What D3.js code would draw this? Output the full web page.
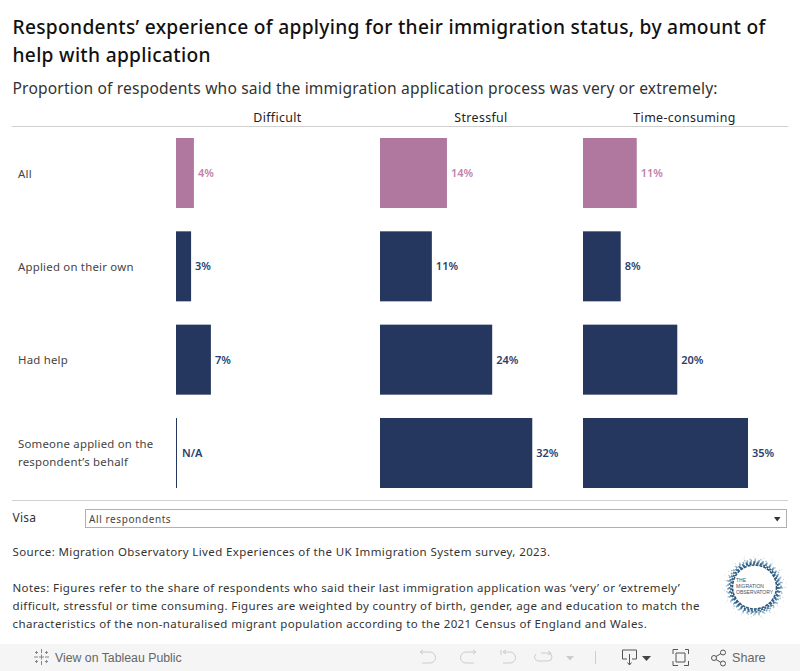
<!DOCTYPE html>
<html><head><meta charset="utf-8">
<script src="https://cdn.jsdelivr.net/npm/d3@7"></script>
<style>
html,body{margin:0;padding:0;background:#fff;overflow:hidden}
svg{display:block}
text{font-family:"Noto Sans",sans-serif}
</style></head><body>
<svg id="c" width="800" height="671"></svg>
<script>
const measures=["Difficult","Stressful","Time-consuming"];
const groups=["All","Applied on their own","Had help","Someone applied on the respondent’s behalf"];
const difficult=[3.8,3.2,7.4,null];
const stressful=[14.2,11,23.8,32.3];
const timeConsuming=[11.4,8,20,35];
const titleLines=["Respondents’ experience of applying for their immigration status, by amount of","help with application"];
const subtitle="Proportion of respodents who said the immigration application process was very or extremely:";
const sourceLines=["Source: Migration Observatory Lived Experiences of the UK Immigration System survey, 2023."];
const noteLines=["Notes: Figures refer to the share of respondents who said their last immigration application was ‘very’ or ‘extremely’","difficult, stressful or time consuming. Figures are weighted by country of birth, gender, age and education to match the","characteristics of the non-naturalised migrant population according to the 2021 Census of England and Wales."];
const seriesByMeasure=[difficult,stressful,timeConsuming];

const svg=d3.select("#c");
const pink="#b0779f",pinkText="#bf80ac",navy="#25375f",navyText="#2c3e6b";
const rule="#d0d0d0";

svg.selectAll("text.title").data(titleLines).join("text").attr("class","title")
 .attr("x",12.5).attr("y",(d,i)=>34+i*27.5).attr("font-size",19.2).attr("font-weight",500).attr("fill","#111").attr("letter-spacing",0.3).text(d=>d);
svg.append("text").attr("x",12.5).attr("y",94).attr("font-size",15.6).attr("fill","#333").attr("letter-spacing",0.16).text(subtitle);

const panelX=d3.scaleOrdinal().domain(measures).range([176,380,583]);
const x=d3.scaleLinear().domain([0,35]).range([0,165]);
const y=d3.scaleBand().domain(groups).range([138,488]).paddingInner(23.3/93.3).paddingOuter(0);
const headerX=d3.scaleOrdinal().domain(measures).range([277.5,481,684.5]);

svg.selectAll("text.head").data(measures).join("text").attr("class","head")
 .attr("x",d=>headerX(d)).attr("y",122).attr("text-anchor","middle").attr("font-size",12.4).attr("fill","#222").attr("letter-spacing",0.35).text(d=>d);
svg.append("line").attr("x1",12).attr("x2",788).attr("y1",126.5).attr("y2",126.5).attr("stroke",rule);
svg.append("line").attr("x1",12).attr("x2",788).attr("y1",500.5).attr("y2",500.5).attr("stroke",rule);

const rowLabel=[["All"],["Applied on their own"],["Had help"],["Someone applied on the","respondent’s behalf"]];
groups.forEach((g,i)=>{
 const cy=y(g)+y.bandwidth()/2;
 const lines=rowLabel[i];
 lines.forEach((l,k)=>svg.append("text").attr("x",18).attr("y",cy+4.5+(k-(lines.length-1)/2)*18).attr("font-size",11.4).attr("fill","#444").attr("letter-spacing",0.22).text(l));
});

measures.forEach((m,mi)=>{
 const g=svg.append("g").attr("transform",`translate(${panelX(m)},0)`);
 const rows=groups.map((name,i)=>({name,i,v:seriesByMeasure[mi][i]}));
 g.selectAll("rect").data(rows).join("rect")
  .attr("x",0).attr("y",d=>y(d.name)).attr("height",y.bandwidth())
  .attr("width",d=>d.v==null?1:x(d.v)).attr("fill",d=>d.i==0?pink:navy);
 g.selectAll("text").data(rows).join("text")
  .attr("x",d=>(d.v==null?1:x(d.v))+(d.v==null?5:4)).attr("y",d=>y(d.name)+y.bandwidth()/2+4)
  .attr("font-size",11).attr("font-weight",600).attr("fill",d=>d.i==0?pinkText:navyText)
  .text(d=>d.v==null?"N/A":d3.format(".0f")(d.v)+"%");
});

// filter control
svg.append("text").attr("x",12.5).attr("y",522).attr("font-size",12).attr("fill","#333").attr("letter-spacing",0.2).text("Visa");
svg.append("rect").attr("x",85.5).attr("y",509.5).attr("width",701).attr("height",18).attr("fill","#fff").attr("stroke","#b0b0b0");
svg.append("text").attr("x",89).attr("y",523).attr("font-size",10).attr("fill","#444").attr("letter-spacing",0.6).text("All respondents");
svg.append("path").attr("d","M774 517h6.500l-3.250 4.500z").attr("fill","#333");

// source + notes
svg.selectAll("text.src").data(sourceLines).join("text").attr("class","src").attr("x",12.5).attr("y",556).attr("font-size",11.5).attr("fill","#333").attr("letter-spacing",0.38).text(d=>d);
svg.selectAll("text.note").data(noteLines).join("text").attr("class","note").attr("x",12.5).attr("y",(d,i)=>592+i*18).attr("font-size",11.5).attr("fill","#333").attr("letter-spacing",0.38).text(d=>d);

// logo
const logo=svg.append("g").attr("transform","translate(754.5,587)");
[[32,"#d5e2ea",1,"1 13"],[30,"#c3d6e2",1.2,"1 9"],[28,"#a9c4d6",1.5,"1.5 4"],[26.5,"#7ea3bc",2,"1.5 2.5"],[25,"#4f7d9e",2,"2 2"],[23.5,"#2f5f86",2,"2 1.5"],[22,"#2d5678",1.6,"3 1"]].forEach(r=>{
 logo.append("circle").attr("r",r[0]).attr("fill","none").attr("stroke",r[1]).attr("stroke-width",r[2]).attr("stroke-dasharray",r[3]);
});
logo.selectAll("text").data(["THE","MIGRATION","OBSERVATORY"]).join("text").attr("x",-18.5).attr("y",(d,i)=>-5+i*6)
 .attr("font-size",5).attr("style","font-family:'Liberation Sans'").attr("fill","#3c5468").text(d=>d);

// toolbar
svg.append("rect").attr("x",0).attr("y",644).attr("width",800).attr("height",27).attr("fill","#f5f5f5");
svg.append("text").attr("x",55).attr("y",662).attr("font-size",12.3).attr("style","font-family:'Liberation Sans'").attr("font-weight",500).attr("fill","#666").text("View on Tableau Public");
svg.append("text").attr("x",732).attr("y",662).attr("font-size",12.6).attr("style","font-family:'Liberation Sans'").attr("font-weight",500).attr("fill","#666").text("Share");
const ic=svg.append("g").attr("fill","none").attr("stroke","#999").attr("stroke-width",1);
const icd=svg.append("g").attr("fill","none").attr("stroke","#555").attr("stroke-width",1);
ic.append("path").attr("d","M41.500 649v4M41.500 661v4M34 657h4M45 657h4M41.500 654.500v5M39 657h5M36.500 651v3M35 652.500h3M46.500 651v3M45 652.500h3M36.500 660v3M35 661.500h3M46.500 660v3M45 661.500h3").attr("stroke","#888");
const light=svg.append("g").attr("fill","none").attr("stroke","#ccc").attr("stroke-width",1);
light.append("path").attr("d","M421 652h9a5.500 5.500 0 0 1 5.500 5.500a5.500 5.500 0 0 1 -5.500 5.500h-8M423 650l-3 2l3 2");
light.append("path").attr("d","M475 652h-9a5.500 5.500 0 0 0 -5.500 5.500a5.500 5.500 0 0 0 5.500 5.500h8M473 650l3 2l-3 2");
light.append("path").attr("d","M501 650v5M504 652h6a5.500 5.500 0 0 1 5.500 5.500a5.500 5.500 0 0 1 -5.500 5.500h-7M506 650l-3 2l3 2");
light.append("path").attr("d","M541 653h7a4 4 0 0 1 0 8h-9a4 4 0 0 1 -3 -7M548 651l3 2l-3 2");
svg.append("path").attr("d","M566 656h8l-4 4.500z").attr("fill","#ccc");
svg.append("line").attr("x1",595.500).attr("x2",595.500).attr("y1",651).attr("y2",664).attr("stroke","#ccc");
icd.append("path").attr("d","M627 659h-4.500v-9h14v9h-4.500M629.500 654v11M627.500 662.500l2 2.500l2 -2.500");
svg.append("path").attr("d","M642 656h9l-4.500 5z").attr("fill","#444");
icd.append("path").attr("d","M673 654v-4.500h5M685 649.500h3.500v4.500M688.500 661v4.500h-4.500M678 665.500h-5v-4.500M676 653h9v9h-9z");
icd.append("circle").attr("cx",714).attr("cy",658).attr("r",2.500);
icd.append("circle").attr("cx",723).attr("cy",652.500).attr("r",2.500);
icd.append("circle").attr("cx",723).attr("cy",663.500).attr("r",2.500);
icd.append("path").attr("d","M716 656.500l5 -3M716 659.500l5 3");
</script>
</body></html>
